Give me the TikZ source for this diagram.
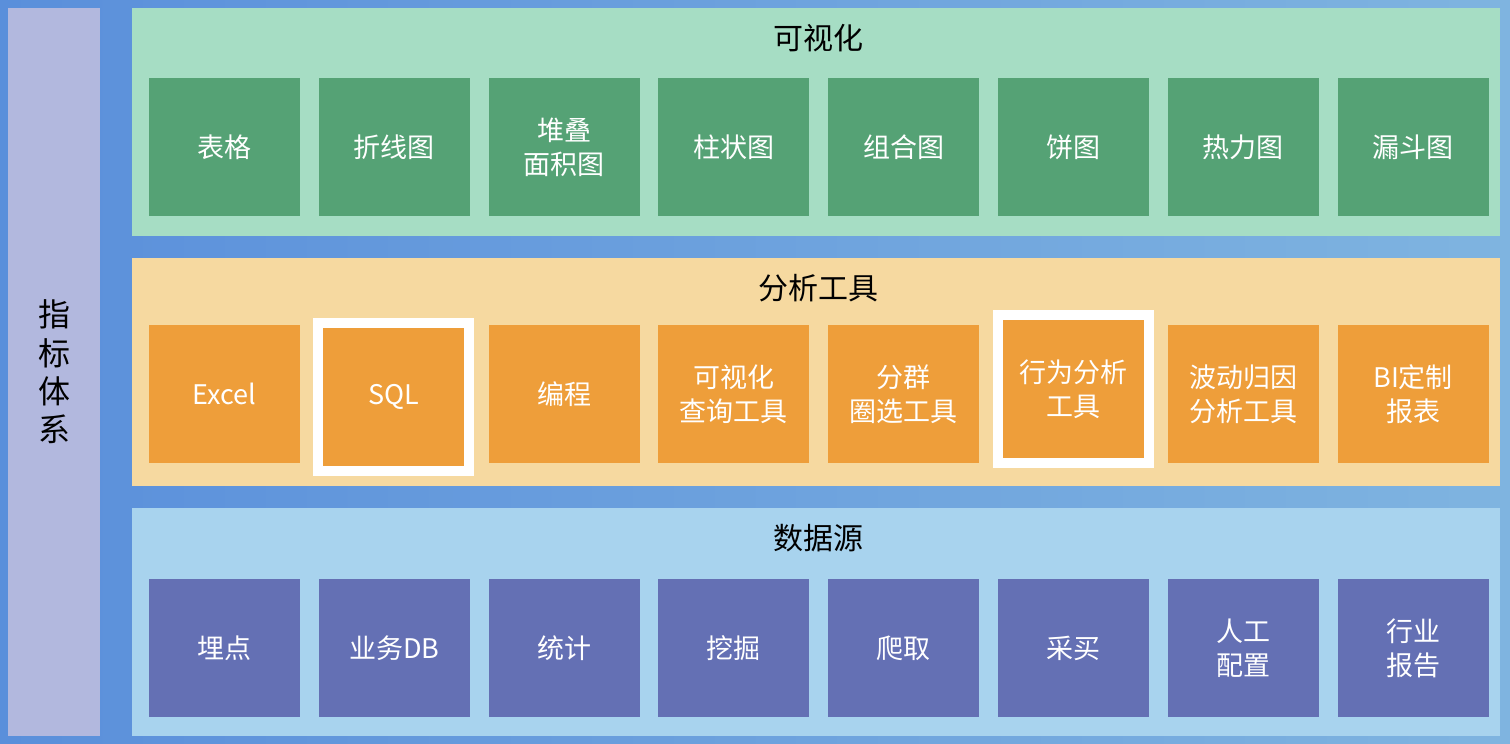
\documentclass[tikz,border=0pt]{standalone}
\usepackage{fontspec}
\setmainfont{Noto Sans CJK SC}
\begin{document}
\begin{tikzpicture}[x=1pt,y=-1pt,
 cell/.style={minimum width=151pt,minimum height=138pt,inner sep=0,align=center,font=\fontsize{27}{34}\selectfont,text=white},
 gcell/.style={cell,fill=cellG},
 ocell/.style={cell,fill=cellO},
 bcell/.style={cell,fill=cellB},
 title/.style={font=\fontsize{30}{36}\selectfont,text=black}]
\definecolor{bgA}{HTML}{5A8FDB}\definecolor{bgB}{HTML}{7FB4E0}
\definecolor{panG}{HTML}{A6DDC4}\definecolor{panO}{HTML}{F6D9A0}\definecolor{panB}{HTML}{A8D3EE}
\definecolor{cellG}{HTML}{55A275}\definecolor{cellO}{HTML}{EE9E3A}\definecolor{cellB}{HTML}{6470B4}
\definecolor{barL}{HTML}{B2B8DE}
\useasboundingbox (0,0) rectangle (1510,744);
\shade[left color=bgA,right color=bgB] (0,0) rectangle (1510,744);
\fill[barL] (8,8) rectangle (100,736);
\node[title,font=\fontsize{32}{38}\selectfont] (zb) at (54,372) {\shortstack{指\\[6pt]标\\[6pt]体\\[6pt]系}};
\fill[panG] (132,8) rectangle (1500,236);
\fill[panO] (132,258) rectangle (1500,486);
\fill[panB] (132,508) rectangle (1500,736);
\node[title] (t1) at (818,38) {可视化};
\node[title] (t2) at (818,288) {分析工具};
\node[title] (t3) at (818,538) {数据源};
\fill[white] (313,318) rectangle (474,476);
\fill[white] (993,310) rectangle (1154,468);
\foreach \t [count=\i from 0] in {表格,折线图,堆叠\\面积图,柱状图,组合图,饼图,热力图,漏斗图}
  \node[gcell] (g\i) at (224.5+\i*169.8,147) {\t};
\foreach \t/\i in {Excel/0,编程/2,可视化\\查询工具/3,分群\\圈选工具/4,波动归因\\分析工具/6,BI定制\\报表/7}
  \node[ocell] (o\i) at (224.5+\i*169.8,394) {\t};
\node[ocell,minimum width=141pt] (o1) at (393.5,397) {SQL};
\node[ocell,minimum width=141pt] (o5) at (1073.5,389) {行为分析\\工具};
\foreach \t [count=\i from 0] in {埋点,业务DB,统计,挖掘,爬取,采买,人工\\配置,行业\\报告}
  \node[bcell] (b\i) at (224.5+\i*169.8,648) {\t};
\end{tikzpicture}
\end{document}
